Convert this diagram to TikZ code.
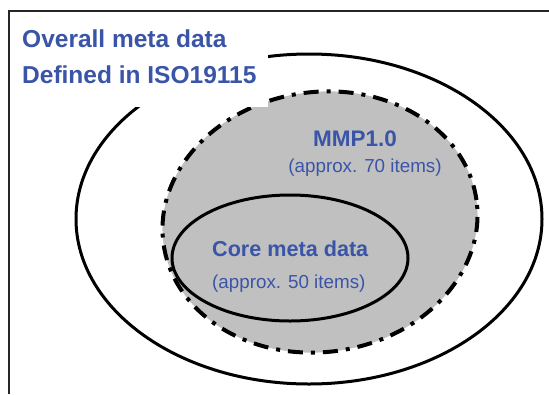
\documentclass[tikz,border=0pt]{standalone}
\usepackage{fontspec}
\setmainfont{Liberation Sans}
\usetikzlibrary{shapes.geometric}

\definecolor{setblue}{RGB}{58,84,168}
\definecolor{setgray}{RGB}{192,192,192}

\tikzset{
  setline/.style={draw,shape=ellipse,line width=3pt,inner sep=0pt},
  dashdot/.style={dash pattern=on 15pt off 8pt on 4pt off 8pt},
  bigtitle/.style={anchor=base west,inner sep=0pt,text=setblue,font=\bfseries\fontsize{24.5}{28}\selectfont},
  subtitle/.style={anchor=base west,inner sep=0pt,text=setblue,font=\fontsize{18.8}{22}\selectfont}
}

\begin{document}
\begin{tikzpicture}[x=1pt,y=-1pt]
\useasboundingbox (0,0) rectangle (549,394);

  % sets
  \node[setline,minimum width=466pt,minimum height=330pt] (overall) at (309,219) {};
  \node[setline,fill=setgray,line width=4pt,dashdot,rotate=8,
        minimum width=316pt,minimum height=260pt] (mmp) at (320,222) {};
  \node[setline,minimum width=236pt,minimum height=126pt] (core) at (290,258) {};

  % label box over the outer set
  \fill[white] (9,11) rectangle (268,107);
  \draw[line width=1.4pt,black!85] (9,394) -- (9,11) -- (549,11);

  \node[bigtitle] (overalltxt) at (22,47) {Overall meta data};
  \node[bigtitle] (isotxt) at (22,83) {Defined in ISO19115};

  \node[bigtitle,anchor=base,font=\bfseries\fontsize{22.5}{26}\selectfont] (mmptxt) at (355,146) {MMP1.0};
  \node[subtitle,anchor=base] (mmpcount) at (365,172) {(approx. 70 items)};

  \node[bigtitle,font=\bfseries\fontsize{21.6}{25}\selectfont] (coretxt) at (212,256) {Core meta data};
  \node[subtitle] (corecount) at (212,288) {(approx. 50 items)};

\end{tikzpicture}
\end{document}
